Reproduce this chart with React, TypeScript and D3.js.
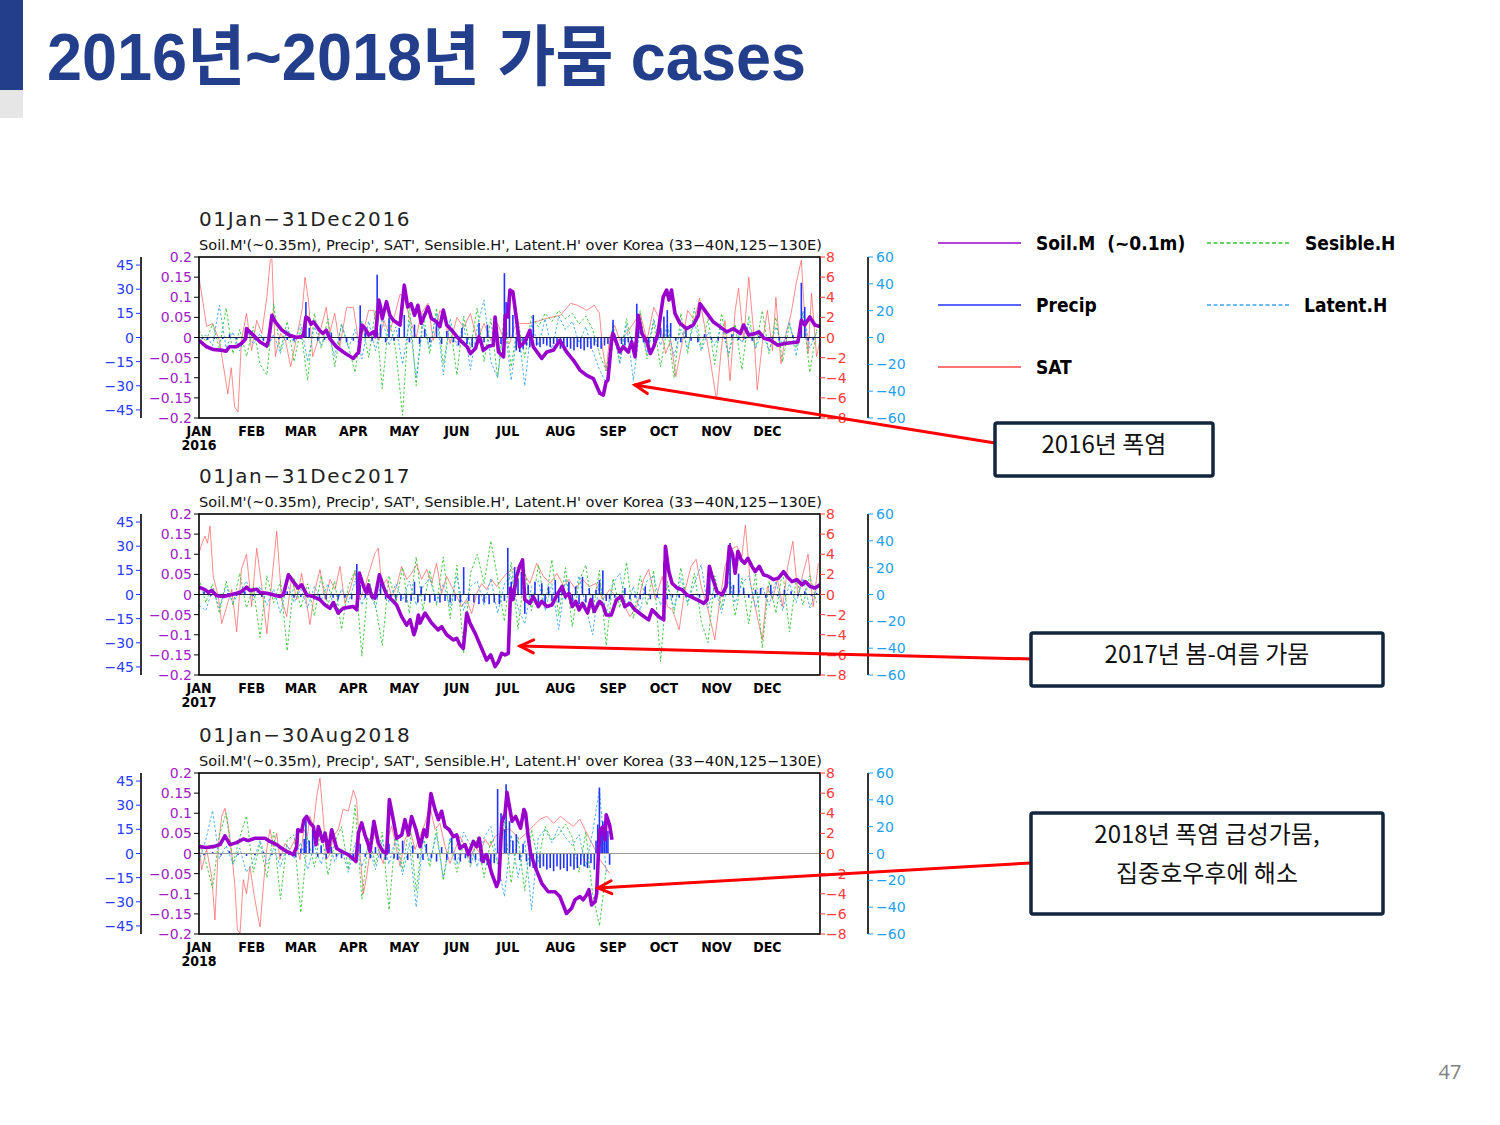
import React from "react";
import * as d3 from "d3";

// month layout shared by every panel (leap-year day offsets)
const MONTHS = ["JAN", "FEB", "MAR", "APR", "MAY", "JUN", "JUL", "AUG", "SEP", "OCT", "NOV", "DEC"];
const MONTH_DAYS = [0, 31, 60, 91, 121, 152, 182, 213, 244, 274, 305, 335];

const SOIL_TICKS = [0.2, 0.15, 0.1, 0.05, 0, -0.05, -0.1, -0.15, -0.2];
const PRECIP_TICKS = [45, 30, 15, 0, -15, -30, -45];
const SAT_TICKS = [8, 6, 4, 2, 0, -2, -4, -6, -8];
const FLUX_TICKS = [60, 40, 20, 0, -20, -40, -60];

// sensible / latent heat flux values are stored every FLUX_STEP days
const FLUX_STEP = 4;

type Pt = [number, number];

// ---------- 2016 ----------
const soil2016: Pt[] = [
  [0, -0.007], [4.5, -0.023], [8.5, -0.03], [14, -0.032], [16, -0.034], [18, -0.023], [22, -0.023], [25, -0.015],
  [27.5, -0.003], [28, 0.022], [32, 0.006], [36, -0.011], [40, -0.021], [41, -0.007], [43, 0.055], [45, 0.039],
  [49, 0.018], [53, 0.006], [57.5, 0], [61.5, 0.003], [63, 0.051], [64.5, 0.047], [66, 0.033], [67.5, 0.039],
  [71, 0.018], [73, 0.01], [75, 0.018], [77, -0.002], [81, -0.023], [85, -0.036], [88, -0.044], [91, -0.052],
  [93, -0.041], [94, -0.038], [96, 0.031], [98, 0.022], [100, 0.006], [103, 0.014], [104, 0.002], [106, 0.093],
  [107, 0.076], [108, 0.047], [110.5, 0.089], [112.5, 0.055], [114.5, 0.043], [118.5, 0.031], [121, 0.13],
  [123, 0.076], [125, 0.084], [127, 0.055], [129, 0.08], [131, 0.035], [135, 0.076], [137, 0.047], [140, 0.039],
  [142, 0.027], [144, 0.068], [146, 0.031], [149, 0.018], [152, 0.002], [155, -0.011], [158, -0.023], [160, -0.04],
  [163, -0.027], [165, 0.002], [166, -0.007], [167.5, -0.032], [170.5, -0.022], [173.5, -0.019], [174.5, 0.051],
  [176.5, -0.036], [179.5, -0.048], [180.5, 0.055], [182, 0.051], [183.3, 0.118], [185, 0.113], [187.2, 0.043],
  [189, -0.023], [192, -0.011], [195, 0.018], [197, -0.023], [202, -0.052], [205, -0.036], [209, -0.031],
  [212.7, -0.007], [216.7, -0.036], [220.6, -0.056], [224.5, -0.081], [228.5, -0.094], [232.4, -0.102],
  [236.3, -0.139], [238.3, -0.143], [239.9, -0.11], [241, -0.106], [243.2, -0.007], [244, 0.01], [248, -0.036],
  [250, -0.023], [253, -0.036], [255, -0.011], [257, -0.048], [258.9, 0.055], [261, 0.01], [264, -0.011],
  [266, -0.04], [268, -0.023], [270.5, 0.01], [273.6, 0.101], [275.6, 0.118], [277, 0.093], [278.5, 0.118],
  [280.5, 0.06], [283.5, 0.035], [287.4, 0.022], [291.3, 0.031], [294.3, 0.055], [295.3, 0.084], [298, 0.068],
  [303, 0.039], [307, 0.027], [311, 0.014], [315, 0.022], [319, 0.01], [321, 0.031], [324, 0.006], [328, 0.01],
  [330, 0.014], [333, -0.002], [337, -0.007], [341, -0.019], [345, -0.015], [349, -0.013], [353, -0.011],
  [355, 0.043], [357, 0.031], [360, 0.051], [363, 0.031], [366, 0.027],
];

const precip2016: Pt[] = [
  [2, -1], [5, -1.5], [9, -1], [14, -1], [18, 2], [22, -1], [28, 5], [33, -1.5], [38, -2], [42, 3], [47, -1],
  [52, -1.5], [56, -2], [60, -1], [63, 22], [65, 6], [70, -2], [74, -1.5], [78, 3], [83, -2], [87, -3], [91, -2],
  [95, 20], [98, 4], [102, -2], [105, 39], [107, 8], [110, -3], [112, 12], [115, -2], [118, 6], [121, 14],
  [124, -3], [127, 8], [130, -4], [133, 5], [136, -3], [140, 10], [143, -4], [146, 4], [150, -3], [153, -5],
  [155, 6], [158, -4], [161, -6], [165, 9], [168, -3], [170, 8], [173, -5], [175, 10], [178, -4], [180, 40],
  [181, 22], [183, 25], [185, 14], [187, -8], [189, -9], [191, -7], [193, -5], [195, -6], [197, 14], [199, -5],
  [201, -6], [203, -4], [205, -5], [207, -6], [209, -4], [211, -3], [213, -7], [215, -8], [217, -6], [219, -7],
  [221, -8], [223, -6], [225, -7], [227, -8], [229, -6], [231, -7], [233, -5], [235, -6], [237, -7], [239, -5],
  [241, -4], [244, 11], [246, -3], [249, -4], [251, -5], [253, -3], [255, -4], [258, 21], [259, 12], [262, -3],
  [265, -4], [268, -3], [272, 6], [274, 13], [276, 17], [278, 9], [281, -2], [284, -3], [287, 5], [290, -2],
  [294, -3], [298, 2], [302, -1.5], [306, -2], [310, -1], [314, 2], [318, -1.5], [322, -1], [326, -2], [330, 1],
  [334, -1.5], [338, -1], [342, -2], [346, -1], [350, 1.5], [355, 34], [357, 19], [359, -2], [362, -1.5],
];

const sat2016: Pt[] = [
  [0, 6], [4.5, 1.1], [8, 1.4], [12, -0.3], [17, -5.6], [19, -3], [21, -6.9], [23, -7.4], [25, -0.3], [28, 2.4],
  [31, -1.3], [34, 1.7], [37, 0.4], [40, 4], [42, 7.7], [43, 7.8], [45, -1.9], [48, 0.4], [51, -0.3], [54, -2.9],
  [58, 0.4], [61, 3], [62.5, 6], [64.5, 3.7], [67, -1.9], [70, -0.3], [72, 1], [75, 3], [77, 0.4], [80, 2.4],
  [83, -0.9], [87, 3], [91, 3], [94, -0.3], [97, 0.7], [100, 2.7], [103, 2.7], [106, -0.3], [109, 1.7], [112, 0.4],
  [115, 2], [118.5, 4.3], [121, 4], [124, 2], [128, 0], [131, 2.4], [135, 3.4], [138, -0.3], [142, 2.7], [145, 1.7],
  [148, -0.6], [152, 2], [156, 1], [160, 2.4], [164, -0.3], [168, 1.4], [172, -0.3], [176, 1.4], [180, -0.3],
  [183, -0.6], [186, 1], [189, 1.4], [195, 1.4], [201, 1.7], [207, 2], [213, 2.2], [219, 3.4], [223, 3.2],
  [228.5, 2.7], [233, 3.2], [236, 2.4], [238, -1.3], [240, -3.3], [242, 0], [245, 1.2], [248, -0.3], [252, 0.4],
  [256, 1.4], [260, 2.4], [264, -0.3], [268, 3], [271, 2], [275, -1.6], [278, -0.3], [281, -3.9], [285, -0.3],
  [288, 2.7], [292, 1.7], [295, 3.9], [298, 1.1], [301, -1.9], [305, -6.2], [308, -0.9], [310, 1.7], [313, -4.3],
  [316, 2.7], [318, 4.9], [321, -0.3], [324, 6], [327, 0.4], [329, -5.2], [332, -0.6], [335, 2.7], [338, -1.3],
  [340, 4], [343, -2.6], [346, 0.4], [349, 2.4], [352, 5.4], [355, 7.7], [357, 2], [359, -1.6], [361, 4.4],
  [364, -1.9], [366, -0.3],
];

const sens2016 = [
  5, -3, 10, -8, 22, -12, 6, -14, 8, -20, -28, 25, -10, 12, -18, 6, -32, 18, -8, 14, -22, 10, -6, -26, 12, -15,
  20, -38, 15, -10, -58, 25, -36, 18, -12, 22, -20, 10, -28, 16, -8, 22, -18, 14, -30, 18, -22, 12, -15, 16, 8,
  18, 12, 20, 14, 18, 10, 16, 6, -12, -25, 10, -18, 14, -10, 20, -16, 12, -22, 8, -30, 18, -12, 22, -8, 14, -20,
  18, -14, 10, -24, 16, -8, 20, -12, 15, -18, 10, -8, 18, -26, 6,
];

const lat2016 = [
  -4, 2, -6, 24, -8, 4, -10, 6, -5, 3, -8, 2, -12, 6, -4, 10, -18, 8, -6, 4, -14, 10, -8, 6, -16, 12, -10, 14, -6,
  8, -20, 12, -30, 10, -8, 18, -28, 14, -6, 10, -24, 8, 28, -18, -30, 12, -32, 8, -36, 10, -6, 14, -10, 16, 6, 12,
  -4, 8, -10, -24, -34, 6, -20, 10, -32, 8, -12, 14, -6, 10, -14, 6, -8, 12, -10, 4, -6, 8, -12, 6, -4, 10, -8, 4,
  -10, 8, -6, 12, -14, 20, -8, 4,
];

// ---------- 2017 ----------
const soil2017: Pt[] = [
  [0, 0.018], [3.5, 0.012], [5.5, 0.005], [7.5, 0.01], [10.4, -0.003], [14.3, -0.005], [18.3, -0.001], [22.2, 0.003],
  [25, 0.007], [28, 0.018], [30, 0.01], [34, 0.013], [36, 0.005], [40, 0.003], [44, -0.001], [47.7, -0.005],
  [49.7, -0.001], [52.7, 0.049], [55.6, 0.032], [58.5, 0.016], [60.5, 0.024], [63.5, -0.001], [67.4, -0.005],
  [71.3, -0.013], [74.3, -0.026], [77.2, -0.034], [79.2, -0.02], [82, -0.046], [85, -0.034], [88, -0.032],
  [91, -0.03], [93, -0.038], [94.5, 0.053], [97, 0.02], [98.8, 0.003], [99.8, 0.024], [101.8, -0.005],
  [103.7, -0.009], [106.3, 0.049], [108.6, 0.02], [110.6, -0.001], [113.6, -0.013], [116.5, -0.026],
  [119.4, -0.055], [122.4, -0.076], [124.4, -0.063], [126.7, -0.1], [127.9, -0.084], [129.3, -0.051],
  [130.3, -0.071], [133.2, -0.046], [137.1, -0.071], [141, -0.088], [143, -0.08], [146, -0.1], [150, -0.113],
  [151.9, -0.109], [153.8, -0.125], [155.8, -0.134], [157.8, -0.046], [159.7, -0.071], [162.7, -0.096],
  [166.6, -0.134], [169.5, -0.163], [171.9, -0.15], [174.5, -0.179], [176.4, -0.167], [178.4, -0.146],
  [180.4, -0.15], [182.3, -0.146], [183.7, 0.016], [185, -0.013], [187.2, 0.045], [189, 0.07], [190.7, 0.086],
  [192, -0.013], [195, -0.022], [197, -0.005], [200, -0.03], [202, -0.017], [205, -0.03], [208, -0.026],
  [211, -0.001], [214, 0.02], [216, -0.005], [218, 0.003], [220, -0.03], [222, -0.017], [224, -0.038],
  [226, -0.022], [229, -0.046], [231, -0.013], [233, -0.042], [236, -0.017], [238, -0.026], [240, -0.051],
  [243, -0.051], [246, -0.013], [249, -0.005], [251, -0.03], [254, -0.022], [257, -0.038], [261, -0.051],
  [265, -0.063], [267, -0.038], [271, -0.055], [273.9, -0.063], [274.9, 0.12], [276.9, 0.057], [278.8, 0.028],
  [281.8, 0.016], [284.7, 0.012], [287.7, -0.001], [291.6, -0.009], [295.5, -0.017], [297.5, -0.022],
  [299.5, -0.013], [300.8, 0.07], [302.4, 0.045], [305.3, 0.007], [308.3, -0.001], [310.6, 0.02], [312.6, 0.12],
  [314.5, 0.099], [316, 0.053], [317.6, 0.107], [319.6, 0.086], [321.5, 0.078], [323.5, 0.09], [325.9, 0.07],
  [327.8, 0.057], [330.2, 0.07], [332.7, 0.049], [335.7, 0.045], [338.6, 0.037], [341.6, 0.041], [344.5, 0.057],
  [346.5, 0.045], [349.4, 0.032], [352.4, 0.037], [355.3, 0.024], [357.3, 0.032], [360.2, 0.02], [363.2, 0.016],
  [366, 0.024],
];

const precip2017: Pt[] = [
  [3, 2], [7, -1], [12, -1.5], [17, 1], [22, -1], [27, 2], [32, -1], [37, -1.5], [42, 1], [47, -1], [52, 2],
  [56, -2], [60, -1.5], [64, -2], [68, -3], [71, -2.5], [75, -3], [79, -2], [82, -3], [86, -2], [90, -3], [93, 19],
  [95, 6], [98, -2], [102, -3], [105, -2], [107, 7], [110, -3], [113, -4], [116, -3], [119, -4], [122, -5],
  [125, -4], [127, 8], [129, -5], [131, 5], [133, -4], [136, -5], [139, -4], [142, -5], [145, -4], [148, -5],
  [151, -4], [154, -5], [156, 17], [159, -4], [162, -5], [165, -6], [168, -5], [171, -6], [174, -5], [177, -6],
  [180, -4], [182, 29], [184, 8], [186, 17], [188, 10], [190, 14], [192, -12], [194, 6], [196, -3], [198, 8],
  [200, -5], [202, 7], [204, -6], [206, 5], [208, -4], [210, 9], [212, -5], [214, 6], [216, -3], [218, 8],
  [220, -4], [222, 5], [224, -6], [226, 11], [228, -5], [230, 4], [232, -7], [234, 3], [236, 9], [238, 15],
  [240, -4], [242, -3], [245, -2], [248, -3], [251, 4], [254, -3], [257, -2], [260, -3], [263, 5], [266, -3],
  [270, -2], [274, 20], [276, -3], [279, -2], [283, -2], [287, -1.5], [291, -2], [295, -2], [299, -1], [301, 18],
  [304, -2], [308, -1], [313, 32], [315, 6], [318, 13], [321, 4], [324, -2], [328, 3], [331, 4], [334, -2],
  [337, 6], [341, -1], [345, 3], [349, 2], [353, -1], [357, 2], [361, -1], [364, 1],
];

const sat2017: Pt[] = [
  [0, 4.1], [1.6, 5], [3.5, 5.8], [5, 5.1], [6.5, 6.8], [8.4, 1.8], [11.4, -0.2], [13.4, -2.9], [16.3, -1.2],
  [19.3, 0.5], [22.2, -3.7], [25, 2.5], [28, 4], [31, -1.2], [34, 4.6], [37, 0.8], [40, -3.9], [43, 1.5],
  [45.8, 6.3], [48.7, -0.5], [51.7, -2.2], [54.6, 1.8], [57.6, -0.5], [60.5, 2.1], [63.5, -0.9], [65.4, -3],
  [68.4, 0.5], [71.3, 2.5], [74.3, -0.5], [77.2, 1.5], [80.2, 0.5], [83.1, 2.8], [86, -0.9], [89, 0.5], [92, 2.3],
  [94.9, -0.5], [97.8, 0.8], [100.8, 2.5], [103.7, 4.1], [105.7, 4.6], [107.7, 0.8], [110.6, 1.5], [113.6, -0.2],
  [116.5, 0.8], [119.4, 2.8], [122.4, 1.5], [125.3, 2.1], [128.3, 3], [131.2, 1.5], [134.2, 2.5], [137.1, 1.1],
  [140, 3.1], [143, 0.1], [146, 1.8], [148.9, 0.8], [151.9, -0.2], [154.8, -1.2], [157.7, -0.5], [160.7, -1.9],
  [163.7, 0.1], [166.6, 1.1], [169.5, 0.5], [172.5, 1.5], [175.4, 0.8], [178.4, 1.5], [181.3, 2.1], [185, 2.5],
  [189, 2.8], [195, 1.1], [199, 3.1], [203, 1.8], [207, 1.1], [211, 2.1], [215, 0.8], [218, 1.5], [222, 0.5],
  [226, 1.5], [230, 0.8], [234, 1.1], [238, -0.5], [242, 0.5], [246, -0.2], [250, -0.9], [254, -2.2], [258, -1.2],
  [262, 1.5], [265, 2.5], [269, -0.5], [273, 1.8], [276, -1.2], [279, -1.5], [283, -3.5], [286, 0.1], [290, 2.8],
  [293, 3.5], [296, 0.8], [300, -1.5], [304, -4.5], [307, -0.5], [310, 2.8], [314, 4.5], [317, 4.8], [320, 3.8],
  [322, 6.9], [325, 1.1], [329, -2.2], [332, -4.5], [335, 0.8], [338, -0.5], [341, 1.5], [344, -1.2], [347, 2.8],
  [350, 5.3], [353, -0.2], [356, 2.1], [359, 4], [362, -1.2], [365, 3.1],
];

const sens2017 = [
  12, -6, 8, -14, 10, -8, 16, -10, 6, -32, 14, -6, 10, -42, 12, -10, 8, -16, 14, -8, 10, -26, 6, 18, -46, 12, -8,
  -38, 14, -6, 20, -14, 28, -12, 18, -8, 28, -18, 22, -44, 16, 30, 8, 40, 12, -20, 24, -26, 18, -12, 22, -8, 26,
  -16, 20, -24, 10, 22, -14, 18, -38, 12, -10, 24, -18, 14, -8, 18, -50, 10, -14, 20, -8, 16, -20, -36, 14, -10,
  22, -16, 12, -22, 16, -40, 10, -14, 18, -28, 12, -8, 14, -6,
];

const lat2017 = [
  -8, -12, 4, -10, 6, -6, 2, 10, -4, 6, -8, 4, -14, 8, -6, 4, -10, 6, -4, 8, -12, 4, -6, 10, -8, 6, -10, 12, -6,
  8, -4, 10, -8, 6, 12, -6, 8, -10, 14, -12, 6, 10, -8, 12, -14, 8, 14, -10, -22, 6, 10, -12, 8, -26, 12, -8, 14,
  -10, -30, 10, -14, 8, 16, -10, 6, -12, 10, 14, -8, 6, -10, 12, -6, 8, 22, -10, 6, -14, 10, -6, 8, 14, -10, 6,
  -8, 10, -12, 8, -6, 12, -10, 4,
];

// ---------- 2018 (to 30 Aug) ----------
const soil2018: Pt[] = [
  [0, 0.017], [4.5, 0.015], [8.4, 0.017], [12.4, 0.022], [15.3, 0.044], [18.3, 0.022], [22.2, 0.027], [26.1, 0.036],
  [29, 0.032], [33, 0.038], [36, 0.038], [38.9, 0.038], [41.8, 0.03], [45.8, 0.022], [48.7, 0.013], [51.7, 0.005],
  [55.6, -0.003], [57.6, 0.017], [58.2, 0.059], [60.5, 0.055], [61.9, 0.084], [63.5, 0.092], [65.4, 0.076],
  [67.4, 0.067], [69, 0.022], [70.3, 0.067], [72.9, 0.03], [74.3, 0.051], [76.2, 0.005], [78.2, 0.059],
  [81.1, 0.013], [84, 0.005], [88, -0.003], [91, -0.014], [92.5, -0.02], [94, 0.051], [95.9, 0.076], [97.8, 0.046],
  [99.8, 0.022], [100.8, 0.005], [103.1, 0.08], [105.7, 0.026], [108.3, 0.005], [110.6, 0.001], [112.2, 0.134],
  [114.5, 0.084], [116.5, 0.038], [119.5, 0.046], [121.4, 0.084], [123.4, 0.046], [125.3, 0.092], [127.9, 0.059],
  [130.3, 0.017], [132.6, 0.059], [134.2, 0.042], [136.7, 0.149], [139.1, 0.109], [141.1, 0.084], [143, 0.105],
  [145, 0.067], [147.5, 0.059], [149.9, 0.042], [151.9, 0.046], [153.8, 0.013], [156.8, 0.022], [158.7, -0.003],
  [161.7, 0.03], [163.7, 0.017], [165.2, 0.038], [167.2, -0.02], [169.5, -0.003], [172.5, -0.049], [175.4, -0.082],
  [176.8, -0.066], [178.4, 0.076], [180.4, 0.1], [181.5, 0.152], [184.5, 0.08], [186.6, 0.092], [189.5, 0.063],
  [191.5, 0.109], [192.5, 0.1], [194, 0.042], [195.4, 0.001], [198, -0.032], [202, -0.074], [205.8, -0.095],
  [209.8, -0.095], [212.7, -0.107], [216.6, -0.149], [219.6, -0.136], [221.6, -0.115], [224.5, -0.107],
  [226.4, -0.115], [228.4, -0.103], [229.8, -0.09], [231.4, -0.128], [233.4, -0.12], [234.4, -0.099],
  [235.4, 0.001], [236.4, 0.059], [238.3, 0.067], [239.3, 0.034], [240, 0.096], [242, 0.071], [243.4, 0.034],
];

const precip2018: Pt[] = [
  [3, -1], [8, 1], [13, -1], [18, 1.5], [23, -1], [28, -1.5], [33, -1], [38, 1], [43, -1], [48, -1.5], [53, -1],
  [57, -2], [60, 3], [62, 9], [63, 22], [65, 8], [67, 15], [70, -2], [72, 5], [75, -3], [78, 4], [81, -2], [84, -3],
  [88, -2], [91, -3], [93, 8], [95, 6], [98, -2], [101, -3], [104, 4], [107, -3], [110, -4], [112, 6], [115, -3],
  [117, -4], [120, 8], [123, -4], [126, 5], [129, -3], [132, -4], [134, 6], [137, -3], [140, -5], [143, 4],
  [146, -4], [149, 10], [151, -4], [154, -5], [157, -3], [160, -6], [163, -4], [166, -5], [168, -6], [170, -7],
  [172, -8], [174, -6], [176, 40], [178, 25], [180, 15], [181, 43], [183, 20], [185, 8], [187, 12], [189, -4],
  [191, 6], [193, -5], [195, -8], [197, -9], [199, -10], [201, -9], [203, -8], [205, -10], [207, -9], [209, -11],
  [211, -8], [213, -10], [215, -9], [217, -11], [219, -8], [221, -10], [223, -9], [225, -7], [227, -8], [229, -9],
  [231, -6], [233, -10], [234, 8], [235, 18], [236, 41], [237, 15], [238, 20], [239, 12], [240, 18], [241, 14],
  [242, -7],
];

const sat2018: Pt[] = [
  [0, 0.7], [1.6, -1.6], [4.5, 0.4], [7.5, -2.3], [9.4, -6.6], [11.4, 0.7], [13.4, 3.7], [15.3, 4.5], [17.3, 2.7],
  [19.3, 0], [21.2, -3.3], [22.6, -7.6], [24.2, -7.9], [26.1, -2.6], [28, -4], [30, -1.3], [32, -3.6], [34, -5.6],
  [36, -7.3], [37.9, -3.3], [39.9, 0.4], [41.8, 2.4], [43.8, 0.7], [45.8, 2], [47.7, -0.6], [50.7, 1], [53.6, 0.4],
  [56.6, 1.4], [59.5, -0.6], [61.9, 2.4], [63.9, 1.7], [65.4, 3.7], [67.4, 2.7], [69.4, 5.7], [71.3, 7.5],
  [73.3, 3.4], [75.2, -0.6], [77.2, 0], [79.2, 1.7], [82.1, 2.4], [85, 4.4], [88, 4.2], [91, 6.3], [92.9, 5.3],
  [94.9, 0], [96.9, -4], [98.8, -2.3], [101.2, 0.7], [103.7, 2], [106.3, 0], [108.6, -1], [111, 1.4], [113.6, 2.7],
  [116.1, 0.7], [118.5, -1.3], [121.4, 1.4], [124.4, 2.4], [127.3, 0.4], [130.3, 1.7], [133.2, 3], [136.1, 4.7],
  [139.1, 2.4], [142, 3], [145, 0.7], [147.9, -1], [150.9, 0.4], [153.8, 1.7], [156.8, 0.7], [159.7, -0.6],
  [162.7, 0.7], [165.6, 0], [168.6, 1.4], [171.5, 0.7], [174.5, 1.7], [177.4, 2], [180.4, 2.4], [183.3, 2.4],
  [189, 1.4], [195, 2.4], [201, 3.4], [205, 3.7], [209, 3], [213, 3.7], [216.6, 3.2], [220.6, 2.7], [224.5, 3.4],
  [227.4, 2.4], [230.4, 1.4], [233.4, 0.4], [236.3, -0.6], [239.3, -1.3], [242, -2],
];

const sens2018 = [
  10, -6, -26, 14, 30, -8, 12, 28, -14, 8, -18, 16, -34, 10, 14, -44, 12, -10, 18, -16, 8, 20, -12, 36, -34, 12,
  -8, 16, -42, 18, -12, 22, -28, 14, -10, 18, -20, 10, -14, 8, -10, 12, -18, 10, -8, 24, -22, 12, -28, 18, -6, 20,
  10, 14, 22, 12, -14, 16, -30, -54, -12,
];

const lat2018 = [
  -6, 10, 32, -4, 6, -8, 4, -14, -6, 10, -8, 4, -10, 6, -4, 8, -12, 6, -8, 10, -6, 4, -14, 8, -10, 6, -12, 10, -8,
  12, -16, 8, -40, 10, -6, 14, -18, 12, -8, 16, 6, -10, 12, 20, -6, -32, 14, -18, 10, -42, 12, 18, 8, 20, 12, 6,
  14, -10, 16, 48, -14,
];

// ---------- layout ----------
const PLOT_L = 199;
const PLOT_R = 820;
const PLOT_H = 161;
const x = d3.scaleLinear().domain([0, 366]).range([PLOT_L, PLOT_R]);

const SOIL_COLOR = "#9900cc";
const PRECIP_COLOR = "#2233ff";
const SAT_COLOR = "#ff5555";
const SENS_COLOR = "#33c433";
const LAT_COLOR = "#3aa6e8";
const NUM_FONT = "'DejaVu Sans', sans-serif";
const LABEL_FONT = "'DejaVu Sans Condensed', 'DejaVu Sans', sans-serif";

const fmt = (v: number) => String(v).replace("-", "\u2212");

interface PanelProps {
  top: number;
  title: string;
  year: string;
  soil: Pt[];
  precip: Pt[];
  sat: Pt[];
  sens: number[];
  lat: number[];
  zeroColor: string;
}

function Panel({ top, title, year, soil, precip, sat, sens, lat, zeroColor }: PanelProps) {
  const bottom = top + PLOT_H;
  const ySoil = d3.scaleLinear().domain([-0.2, 0.2]).range([bottom, top]);
  const yPr = d3.scaleLinear().domain([-50, 50]).range([bottom, top]);
  const ySat = d3.scaleLinear().domain([-8, 8]).range([bottom, top]);
  const yFlux = d3.scaleLinear().domain([-60, 60]).range([bottom, top]);

  const soilLine = d3.line<Pt>().x(d => x(d[0])).y(d => ySoil(d[1]));
  const satLine = d3.line<Pt>().x(d => x(d[0])).y(d => ySat(d[1]));
  const fluxLine = d3.line<number>().x((_, i) => x(i * FLUX_STEP)).y(d => yFlux(d));
  const clipId = `plot-clip-${top}`;

  return (
    <g>
      <text x={PLOT_L} y={top - 31} fontFamily={NUM_FONT} fontSize={20} letterSpacing={1.6} fill="#222">
        {title}
      </text>
      <text x={PLOT_L} y={top - 7} fontFamily={NUM_FONT} fontSize={13.5} textLength={623} lengthAdjust="spacingAndGlyphs" fill="#111">
        Soil.M'(~0.35m), Precip', SAT', Sensible.H', Latent.H' over Korea (33{"\u2212"}40N,125{"\u2212"}130E)
      </text>

      <clipPath id={clipId}>
        <rect x={PLOT_L} y={top} width={PLOT_R - PLOT_L} height={PLOT_H} />
      </clipPath>
      <g clipPath={`url(#${clipId})`}>
        <path d={satLine(sat) || ""} fill="none" stroke={SAT_COLOR} strokeWidth={0.8} strokeOpacity={0.85} />
        <path d={fluxLine(sens) || ""} fill="none" stroke={SENS_COLOR} strokeWidth={0.9} strokeDasharray="2.5,2" />
        <path d={fluxLine(lat) || ""} fill="none" stroke={LAT_COLOR} strokeWidth={0.9} strokeDasharray="2.5,2" />
        {precip.map(([d, v], i) => (
          <rect key={i} x={x(d) - 0.8} width={1.6}
            y={yPr(Math.max(v, 0))} height={Math.abs(yPr(v) - yPr(0))} fill={PRECIP_COLOR} />
        ))}
        <line x1={PLOT_L} x2={PLOT_R} y1={yPr(0)} y2={yPr(0)} stroke={zeroColor} strokeWidth={1} />
        <path d={soilLine(soil) || ""} fill="none" stroke={SOIL_COLOR} strokeWidth={3.6} strokeLinejoin="round" />
      </g>
      <rect x={PLOT_L} y={top} width={PLOT_R - PLOT_L} height={PLOT_H} fill="none" stroke="#000" strokeWidth={1.6} />

      {/* soil moisture axis (left, purple) */}
      {SOIL_TICKS.map(t => (
        <g key={`s${t}`}>
          <line x1={PLOT_L - 5} x2={PLOT_L} y1={ySoil(t)} y2={ySoil(t)} stroke="#000" />
          <text x={PLOT_L - 7} y={ySoil(t)} dy="0.36em" textAnchor="end" fontFamily={NUM_FONT} fontSize={14} fill="#a01cc8">
            {fmt(t)}
          </text>
        </g>
      ))}

      {/* precipitation axis (outer left, blue) */}
      <line x1={141} x2={141} y1={top} y2={bottom} stroke="#000" strokeWidth={1.6} />
      {PRECIP_TICKS.map(t => (
        <g key={`p${t}`}>
          <line x1={136} x2={141} y1={yPr(t)} y2={yPr(t)} stroke={PRECIP_COLOR} />
          <text x={134} y={yPr(t)} dy="0.36em" textAnchor="end" fontFamily={NUM_FONT} fontSize={14} fill="#2a3cff">
            {fmt(t)}
          </text>
        </g>
      ))}

      {/* air temperature axis (right, red) */}
      {SAT_TICKS.map(t => (
        <g key={`t${t}`}>
          <line x1={PLOT_R} x2={PLOT_R + 5} y1={ySat(t)} y2={ySat(t)} stroke="#ff3b3b" />
          <text x={PLOT_R + 6} y={ySat(t)} dy="0.36em" fontFamily={NUM_FONT} fontSize={14} fill="#ff3b3b">
            {fmt(t)}
          </text>
        </g>
      ))}

      {/* heat flux axis (outer right, light blue) */}
      <line x1={868} x2={868} y1={top} y2={bottom} stroke="#000" strokeWidth={1.6} />
      {FLUX_TICKS.map(t => (
        <g key={`f${t}`}>
          <line x1={868} x2={873} y1={yFlux(t)} y2={yFlux(t)} stroke="#1ea0f0" />
          <text x={876} y={yFlux(t)} dy="0.36em" fontFamily={NUM_FONT} fontSize={14} fill="#1ea0f0">
            {fmt(t)}
          </text>
        </g>
      ))}

      {MONTHS.map((m, i) => (
        <text key={m} x={x(MONTH_DAYS[i])} y={bottom + 18} textAnchor="middle" fontFamily={LABEL_FONT}
          fontWeight="bold" fontSize={14} fill="#000">
          {m}
        </text>
      ))}
      <text x={x(0)} y={bottom + 32} textAnchor="middle" fontFamily={LABEL_FONT} fontWeight="bold" fontSize={14} fill="#000">
        {year}
      </text>
    </g>
  );
}

function Arrow({ tip, tail }: { tip: Pt; tail: Pt }) {
  const ang = Math.atan2(tail[1] - tip[1], tail[0] - tip[0]);
  const len = 15;
  const spread = Math.PI / 7;
  const w1: Pt = [tip[0] + len * Math.cos(ang + spread), tip[1] + len * Math.sin(ang + spread)];
  const w2: Pt = [tip[0] + len * Math.cos(ang - spread), tip[1] + len * Math.sin(ang - spread)];
  return (
    <g stroke="#ff0000" strokeWidth={3} fill="none" strokeLinecap="round">
      <line x1={tail[0]} y1={tail[1]} x2={tip[0]} y2={tip[1]} />
      <polyline points={`${w1[0]},${w1[1]} ${tip[0]},${tip[1]} ${w2[0]},${w2[1]}`} />
    </g>
  );
}

const KR_FONT = "'Noto Sans CJK KR', 'Noto Sans', sans-serif";

export default function App() {
  return (
    <svg width={1500} height={1125} style={{ position: "absolute", left: 0, top: 0, background: "#fff" }}>
      <rect width={1500} height={1125} fill="#fff" />
      <rect x={0} y={0} width={23} height={90} fill="#233f8c" />
      <rect x={0} y={90} width={23} height={28} fill="#e6e6e6" />
      <text x={47} y={80} fontFamily="'Liberation Sans', 'Noto Sans CJK KR', sans-serif" fontWeight="bold"
        fontSize={66} fill="#233f8c" textLength={759} lengthAdjust="spacingAndGlyphs">
        2016년~2018년 가뭄 cases
      </text>

      <Panel top={257} title={"01Jan\u221231Dec2016"} year="2016" soil={soil2016} precip={precip2016}
        sat={sat2016} sens={sens2016} lat={lat2016} zeroColor="#1a2240" />
      <Panel top={514} title={"01Jan\u221231Dec2017"} year="2017" soil={soil2017} precip={precip2017}
        sat={sat2017} sens={sens2017} lat={lat2017} zeroColor="#1a2240" />
      <Panel top={773} title={"01Jan\u221230Aug2018"} year="2018" soil={soil2018} precip={precip2018}
        sat={sat2018} sens={sens2018} lat={lat2018} zeroColor="#999" />

      {/* legend */}
      <g fontFamily={LABEL_FONT} fontWeight="bold" fontSize={19} fill="#000">
        <line x1={938} x2={1021} y1={243} y2={243} stroke={SOIL_COLOR} strokeWidth={1.6} />
        <text x={1036} y={250}>{"Soil.M\u00a0\u00a0(~0.1m)"}</text>
        <line x1={938} x2={1021} y1={305} y2={305} stroke={PRECIP_COLOR} strokeWidth={1.6} />
        <text x={1036} y={312}>Precip</text>
        <line x1={938} x2={1021} y1={367} y2={367} stroke="#ff4444" strokeWidth={1.6} />
        <text x={1036} y={374}>SAT</text>
        <line x1={1207} x2={1291} y1={243} y2={243} stroke={SENS_COLOR} strokeWidth={1.4} strokeDasharray="4,2.5" />
        <text x={1305} y={250}>Sesible.H</text>
        <line x1={1207} x2={1291} y1={305} y2={305} stroke={LAT_COLOR} strokeWidth={1.4} strokeDasharray="4,2.5" />
        <text x={1304} y={312}>Latent.H</text>
      </g>

      {/* annotations */}
      <Arrow tip={[635, 385]} tail={[995, 443]} />
      <Arrow tip={[520, 646]} tail={[1031, 659]} />
      <Arrow tip={[598, 888]} tail={[1031, 863]} />

      <g fontFamily={KR_FONT} fontSize={24} fill="#111" textAnchor="middle">
        <rect x={995} y={423} width={218} height={53} rx={2} fill="#fff" stroke="#13263f" strokeWidth={3.5} />
        <text x={1104} y={453}>2016년 폭염</text>
        <rect x={1031} y={633} width={352} height={53} rx={2} fill="#fff" stroke="#13263f" strokeWidth={3.5} />
        <text x={1207} y={663}>2017년 봄-여름 가뭄</text>
        <rect x={1031} y={813} width={352} height={101} rx={2} fill="#fff" stroke="#13263f" strokeWidth={3.5} />
        <text x={1207} y={843}>2018년 폭염 급성가뭄,</text>
        <text x={1207} y={882}>집중호우후에 해소</text>
      </g>

      <text x={1450} y={1079} textAnchor="middle" fontFamily="'Open Sans', sans-serif" fontSize={20} fill="#7f7f7f">47</text>
    </svg>
  );
}
